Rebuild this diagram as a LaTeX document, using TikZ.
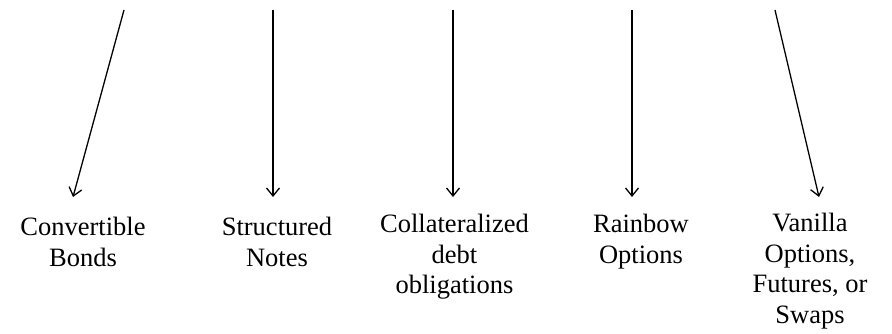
\documentclass[tikz,border=0pt]{standalone}
\usepackage{fontspec}
\setmainfont{Liberation Serif}
\usetikzlibrary{arrows.meta}
\begin{document}
\begin{tikzpicture}[x=1pt,y=-1pt,
  label/.style={anchor=north,inner sep=0pt,align=center,font=\fontsize{26.5}{30.5}\selectfont},
  conn/.style={line width=1.3pt,-{Straight Barb[length=8pt,width=13pt,line width=1.3pt]}}]
\useasboundingbox (0,0) rectangle (892,334);
\node[label] (cb) at (83,217) {Convertible\\Bonds};
\node[label] (sn) at (277,217) {Structured\\Notes};
\node[label] (cdo) at (454.5,214) {Collateralized\\debt\\obligations};
\node[label] (ro) at (641,214) {Rainbow\\Options};
\node[label] (vo) at (810,213) {Vanilla\\Options,\\Futures, or\\Swaps};
\coordinate (s1) at (124,10); \coordinate (t1) at (73,197);
\coordinate (s2) at (273,10); \coordinate (t2) at (273,197);
\coordinate (s3) at (453,10); \coordinate (t3) at (453,197);
\coordinate (s4) at (632,10); \coordinate (t4) at (632,197);
\coordinate (s5) at (775,10); \coordinate (t5) at (819,197);
\draw[conn] (s1) -- (t1);
\draw[conn] (s2) -- (t2);
\draw[conn] (s3) -- (t3);
\draw[conn] (s4) -- (t4);
\draw[conn] (s5) -- (t5);
\end{tikzpicture}
\end{document}
